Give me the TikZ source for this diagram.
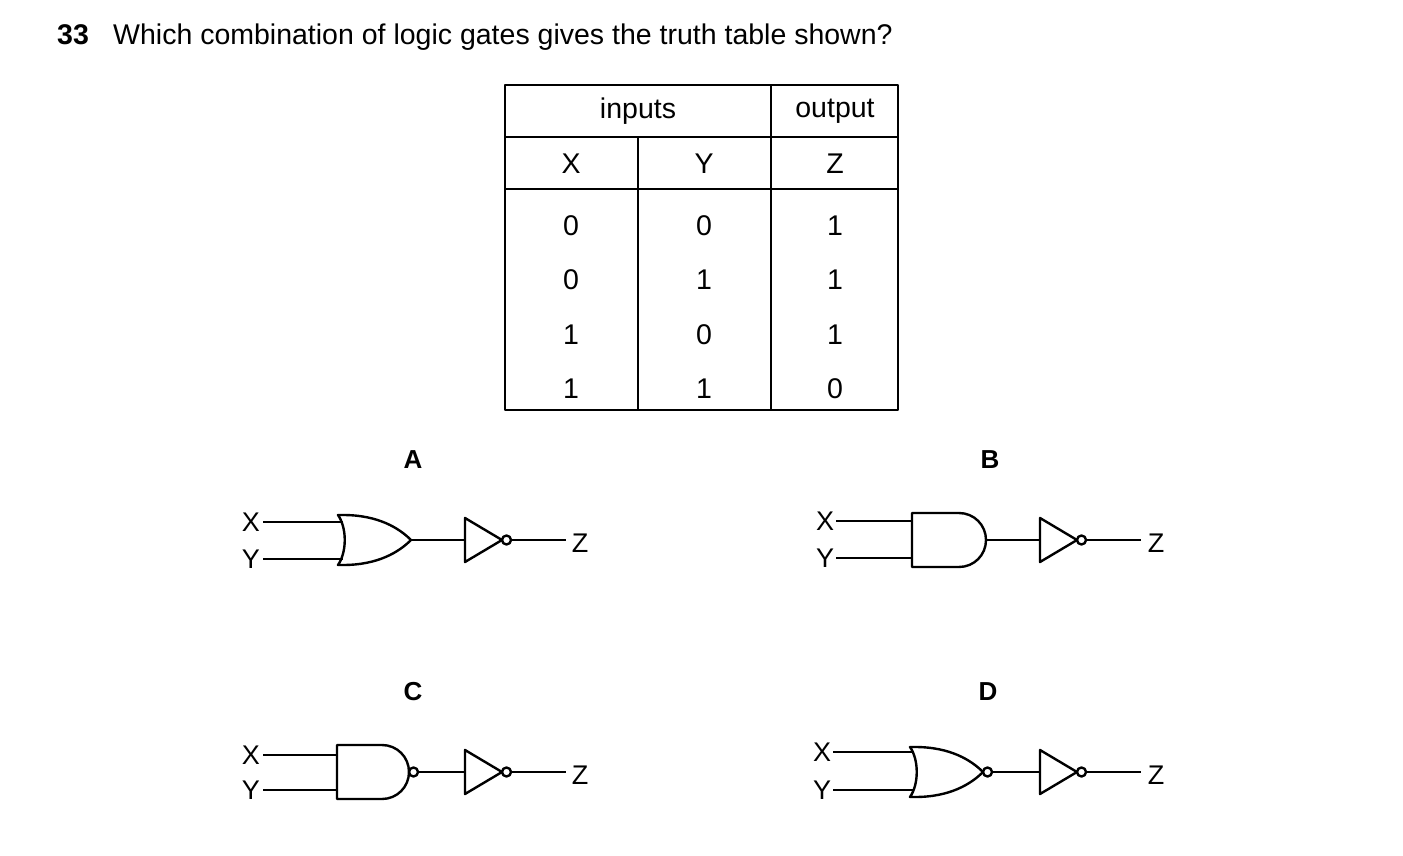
\documentclass[tikz,border=0pt]{standalone}
\usepackage{fontspec}
\setmainfont{Liberation Sans}
\begin{document}
\begin{tikzpicture}[x=1pt,y=-1pt,line join=round,
  w/.style={line width=2.4pt},
  txt/.style={font=\fontsize{28.5}{33}\selectfont,inner sep=0pt},
  lbl/.style={font=\fontsize{26}{30}\selectfont\bfseries,inner sep=0pt},
  io/.style={font=\fontsize{27}{31}\selectfont,inner sep=0pt}]
\useasboundingbox (0,0) rectangle (1403,856);
\newcommand{\orG}[3]{% left x, center y, length
 \draw[w] (#1,#2-25) .. controls (#1+9,#2-12) and (#1+9,#2+12) .. (#1,#2+25) -- (#1+5,#2+25) .. controls (#1+40,#2+25) and (#1+#3-12,#2+12) .. (#1+#3,#2) .. controls (#1+#3-12,#2-12) and (#1+40,#2-25) .. (#1+5,#2-25) -- cycle;}
\newcommand{\andG}[3]{%
 \draw[w] (#1,#2-27) -- (#1+#3-27,#2-27) .. controls (#1+#3-12,#2-27) and (#1+#3,#2-15) .. (#1+#3,#2) .. controls (#1+#3,#2+15) and (#1+#3-12,#2+27) .. (#1+#3-27,#2+27) -- (#1,#2+27) -- cycle;}
\newcommand{\notG}[2]{%
 \draw[w] (#1,#2-22) -- (#1+37,#2) -- (#1,#2+22) -- cycle;
 \draw[w] (#1+41.5,#2) circle (4.5);}
% title
\node[txt,anchor=base west,font=\fontsize{28.5}{33}\selectfont\bfseries] (num) at (57,45) {33};
\node[txt,anchor=base west] (q) at (113,45) {Which combination of logic gates gives the truth table shown?};
% table
\draw[line width=1.4pt] (505,85) rectangle (898,410);
\draw[line width=1.4pt] (505,137) -- (898,137) (505,189) -- (898,189) (771,85) -- (771,410) (638,137) -- (638,410);
\node[txt] (hin) at (638,111) {inputs};
\node[txt] (hout) at (835,111) {output};
\foreach \x/\t in {571/X,704/Y,835/Z} \node[txt] at (\x,164) {\t};
\foreach \y/\a/\b/\c in {226/0/0/1,280/0/1/1,335/1/0/1,389/1/1/0}{
 \node[txt] at (571,\y) {\a}; \node[txt] at (704,\y) {\b}; \node[txt] at (835,\y) {\c};}
% labels
\node[lbl] (A) at (413,460) {A};
\node[lbl] (B) at (990,460) {B};
\node[lbl] (C) at (413,692) {C};
\node[lbl] (D) at (988,692) {D};
% Gate A
\node[io] (ax) at (251,522) {X}; \node[io] (ay) at (251,559) {Y};
\draw[w] (263,522) -- (343,522) (263,559) -- (343,559);
\orG{338}{540}{73}
\draw[w] (411,540) -- (465,540);
\notG{465}{540}
\draw[w] (510,540) -- (566,540);
\node[io] (az) at (580,543) {Z};
% Gate B
\node[io] (bx) at (825,521) {X}; \node[io] (by) at (825,558) {Y};
\draw[w] (836,521) -- (912,521) (836,558) -- (912,558);
\andG{912}{540}{74}
\draw[w] (986,540) -- (1040,540);
\notG{1040}{540}
\draw[w] (1085,540) -- (1141,540);
\node[io] (bz) at (1156,543) {Z};
% Gate C
\node[io] (cx) at (251,755) {X}; \node[io] (cy) at (251,790) {Y};
\draw[w] (263,755) -- (337,755) (263,790) -- (337,790);
\andG{337}{772}{72}
\draw[w] (413.5,772) circle (4.5);
\draw[w] (418,772) -- (465,772);
\notG{465}{772}
\draw[w] (510,772) -- (566,772);
\node[io] (cz) at (580,775) {Z};
% Gate D
\node[io] (dx) at (822,752) {X}; \node[io] (dy) at (822,790) {Y};
\draw[w] (833,752) -- (914,752) (833,790) -- (914,790);
\orG{910}{772}{73}
\draw[w] (987.5,772) circle (4.5);
\draw[w] (992,772) -- (1040,772);
\notG{1040}{772}
\draw[w] (1085,772) -- (1141,772);
\node[io] (dz) at (1156,775) {Z};
\end{tikzpicture}
\end{document}
